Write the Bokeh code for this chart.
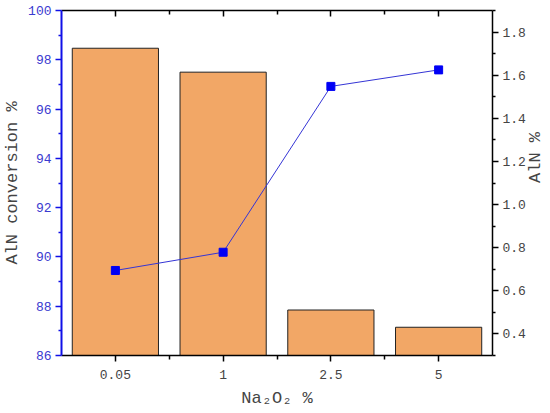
import math
from bokeh.plotting import figure
from bokeh.models import Range1d, LinearAxis, FixedTicker, ColumnDataSource, NumeralTickFormatter, CustomJSTickFormatter
from bokeh.embed import file_html
from bokeh.resources import INLINE

# ---- data ----
categories = ["0.05", "1", "2.5", "5"]
aln_pct = [1.725, 1.614, 0.511, 0.431]          # bars (right axis, AlN %)
conversion = [89.45, 90.19, 96.92, 97.59]       # line (left axis, AlN conversion %)
left_ticks = [86, 88, 90, 92, 94, 96, 98, 100]
left_minor = [87, 89, 91, 93, 95, 97, 99]
right_ticks = [0.4, 0.6, 0.8, 1.0, 1.2, 1.4, 1.6, 1.8]
right_minor = [0.3, 0.5, 0.7, 0.9, 1.1, 1.3, 1.5, 1.7, 1.9]
x_label = "Na\u2082O\u2082 %"
left_label = "AlN conversion %"
right_label = "AlN %"

FONT = "Liberation Mono"
BAR_COLOR = "#F2A766"
LINE_COLOR = "#3535D5"
MARK_COLOR = "#0000F5"
AXIS_BLUE = "#1010E8"
LABEL_BLUE = "#3A3AD0"

# category slots: each category occupies one unit, centred at i + 0.5
x_pos = [i + 0.5 for i in range(len(categories))]
x_minor = [float(i) for i in range(1, len(categories))]
overrides = {x_pos[i]: c for i, c in enumerate(categories)}

src = ColumnDataSource(dict(x=x_pos, aln=aln_pct, conv=conversion))

p = figure(x_range=Range1d(0, len(categories)), y_range=Range1d(86, 100),
           frame_width=431, frame_height=345,
           output_backend="svg", toolbar_location=None,
           x_axis_location=None, y_axis_location=None,
           min_border=0, min_border_top=10)
p.extra_y_ranges = {"r": Range1d(0.3, 1.9)}
p.outline_line_color = None
p.background_fill_color = "white"
p.border_fill_color = "white"
if p.grid:
    p.grid.visible = False

p.vbar(x="x", top="aln", bottom=0.3, width=0.8, y_range_name="r",
       fill_color=BAR_COLOR, line_color="#222222", line_width=1, source=src)
p.line(x="x", y="conv", line_color=LINE_COLOR, line_width=1, source=src)
p.scatter(x="x", y="conv", marker="square", size=8, fill_color=MARK_COLOR,
          line_color=MARK_COLOR, source=src)

bottom = LinearAxis(ticker=FixedTicker(ticks=x_pos, minor_ticks=x_minor),
                    major_label_overrides=overrides,
                    axis_label=x_label, axis_label_text_font=FONT,
                    axis_label_text_font_size="17px", axis_label_text_font_style="normal",
                    axis_label_standoff=7,
                    major_label_text_font=FONT, major_label_text_font_size="13px",
                    major_label_standoff=8,
                    axis_line_width=1.5, major_tick_out=6, major_tick_in=0,
                    minor_tick_out=4, minor_tick_in=0,
                    major_tick_line_width=1.5, minor_tick_line_width=1.5)
p.add_layout(bottom, "below")

top = LinearAxis(ticker=FixedTicker(ticks=x_pos, minor_ticks=x_minor),
                 formatter=CustomJSTickFormatter(code="return ''"),
                 major_label_standoff=0,
                 axis_line_width=1.5, major_tick_out=0, major_tick_in=6,
                 minor_tick_out=0, minor_tick_in=4,
                 major_tick_line_width=1.5, minor_tick_line_width=1.5)
p.add_layout(top, "above")

left = LinearAxis(ticker=FixedTicker(ticks=left_ticks, minor_ticks=left_minor),
                  axis_label=left_label, axis_label_text_font=FONT,
                  axis_label_text_font_size="17px", axis_label_text_font_style="normal",
                  axis_label_standoff=3,
                  major_label_text_font=FONT, major_label_text_font_size="13px",
                  major_label_text_color=LABEL_BLUE, major_label_standoff=4,
                  axis_line_color=AXIS_BLUE, axis_line_width=2,
                  major_tick_line_color=AXIS_BLUE, minor_tick_line_color=AXIS_BLUE,
                  major_tick_line_width=1.5, minor_tick_line_width=1.5,
                  major_tick_out=6, major_tick_in=0, minor_tick_out=3, minor_tick_in=0)
p.add_layout(left, "left")

right = LinearAxis(y_range_name="r", ticker=FixedTicker(ticks=right_ticks, minor_ticks=right_minor),
                   formatter=NumeralTickFormatter(format="0.0"),
                   axis_label=right_label, axis_label_text_font=FONT,
                   axis_label_text_font_size="17px", axis_label_text_font_style="normal",
                   axis_label_standoff=7, axis_label_orientation=math.pi / 2,
                   major_label_text_font=FONT, major_label_text_font_size="13px",
                   major_label_standoff=4,
                   axis_line_width=1.5,
                   major_tick_line_width=1.5, minor_tick_line_width=1.5,
                   major_tick_out=6, major_tick_in=0, minor_tick_out=3, minor_tick_in=0)
p.add_layout(right, "right")

open("out.html", "w").write(file_html(p, INLINE))
